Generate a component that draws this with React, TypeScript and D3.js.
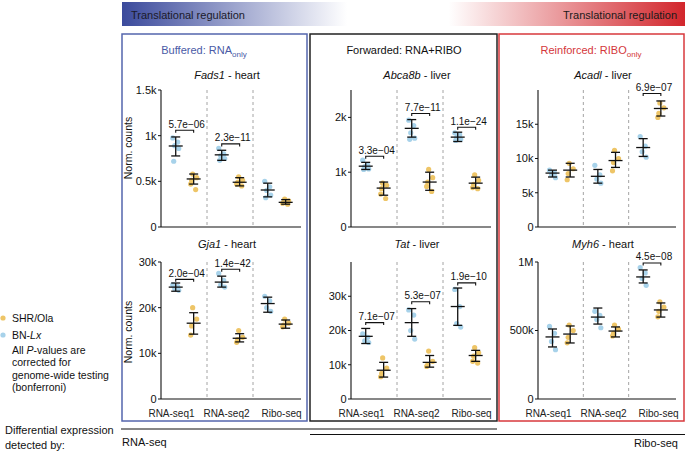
import React from "react";
import * as d3 from "d3";

const W = 685;
const H = 452;
const FONT = "'Liberation Sans', Arial, Helvetica, sans-serif";

const groups = ["RNA-seq1", "RNA-seq2", "Ribo-seq"];
const strainNames = ["SHR/Ola", "BN-Lx"];
const noteLines = ["All P-values are", "corrected for", "genome-wide testing", "(bonferroni)"];

// ---- Fads1 - heart ----
const fads1BnPts = [[975, 930, 890, 860, 720], [860, 800, 780, 750, 730], [500, 440, 400, 350, 320]];
const fads1BnMean = [887, 790, 405];
const fads1BnLo = [778, 730, 330];
const fads1BnHi = [986, 840, 480];
const fads1ShrPts = [[580, 540, 510, 470, 410], [550, 510, 490, 470, 450], [305, 285, 270, 260, 250]];
const fads1ShrMean = [526, 490, 270];
const fads1ShrLo = [470, 450, 250];
const fads1ShrHi = [580, 540, 300];
const fads1P = ["5.7e\u221206", "2.3e\u221211", ""];
const fads1PY = [1060, 910, 0];
const fads1Ticks = [0, 500, 1000, 1500];
const fads1TickLabels = ["0", "0.5k", "1k", "1.5k"];

// ---- Abca8b - liver ----
const abcaBnPts = [[1220, 1130, 1100, 1060, 1050], [1950, 1850, 1720, 1620, 1600], [1720, 1680, 1640, 1600, 1580]];
const abcaBnMean = [1110, 1800, 1640];
const abcaBnLo = [1050, 1640, 1560];
const abcaBnHi = [1180, 1960, 1730];
const abcaShrPts = [[800, 760, 700, 600, 520], [1050, 900, 820, 740, 650], [950, 850, 780, 720, 700]];
const abcaShrMean = [710, 820, 800];
const abcaShrLo = [580, 670, 710];
const abcaShrHi = [820, 1000, 910];
const abcaP = ["3.3e\u221204", "7.7e\u221211", "1.1e\u221224"];
const abcaPY = [1290, 2070, 1820];
const abcaTicks = [0, 1000, 2000];
const abcaTickLabels = ["0", "1k", "2k"];

// ---- Acadl - liver ----
const acadlBnPts = [[8300, 7900, 7600, 7200], [9000, 7600, 7000, 6400], [13200, 11800, 11000, 10200]];
const acadlBnMean = [7870, 7400, 11600];
const acadlBnLo = [7300, 6400, 10300];
const acadlBnHi = [8300, 8400, 12900];
const acadlShrPts = [[9300, 8500, 7800, 6900], [11200, 10000, 9400, 8200], [18100, 17400, 16600, 16000]];
const acadlShrMean = [8300, 9700, 17300];
const acadlShrLo = [7300, 8700, 16200];
const acadlShrHi = [9300, 10900, 18400];
const acadlP = ["", "", "6.9e\u221207"];
const acadlPY = [0, 0, 19500];
const acadlTicks = [0, 5000, 10000, 15000];
const acadlTickLabels = ["0", "5k", "10k", "15k"];

// ---- Gja1 - heart ----
const gjaBnPts = [[25000, 24600, 24200, 23800], [27500, 26000, 25000, 24500], [22500, 21500, 20000, 19200]];
const gjaBnMean = [24500, 25600, 20900];
const gjaBnLo = [23600, 24500, 19000];
const gjaBnHi = [25400, 26900, 22300];
const gjaShrPts = [[20000, 17500, 16000, 14000], [15000, 13500, 13000, 12400], [17500, 16600, 16200, 15800]];
const gjaShrMean = [16600, 13300, 16400];
const gjaShrLo = [14200, 12500, 15500];
const gjaShrHi = [18900, 14300, 17300];
const gjaP = ["2.0e\u221204", "1.4e\u221242", ""];
const gjaPY = [26200, 28400, 0];
const gjaTicks = [0, 10000, 20000, 30000];
const gjaTickLabels = ["0", "10k", "20k", "30k"];

// ---- Tat - liver ----
const tatBnPts = [[19000, 18000, 17000, 16500], [26000, 24500, 20000, 17500], [32000, 27000, 22000, 21000]];
const tatBnMean = [18300, 22300, 27000];
const tatBnLo = [16200, 18300, 21500];
const tatBnHi = [20600, 26400, 32400];
const tatShrPts = [[12000, 9000, 7500, 6500], [14000, 11000, 10000, 9500], [15000, 13500, 12500, 11000, 10500]];
const tatShrMean = [8400, 10700, 12700];
const tatShrLo = [6400, 9300, 11000];
const tatShrHi = [10700, 12700, 14200];
const tatP = ["7.1e\u221207", "5.3e\u221207", "1.9e\u221210"];
const tatPY = [22300, 28400, 33900];
const tatTicks = [0, 10000, 20000, 30000];
const tatTickLabels = ["0", "10k", "20k", "30k"];

// ---- Myh6 - heart ----
const myhBnPts = [[530000, 480000, 420000, 360000], [640000, 610000, 580000, 520000], [960000, 920000, 880000, 830000]];
const myhBnMean = [453000, 598000, 891000];
const myhBnLo = [380000, 547000, 847000];
const myhBnHi = [511000, 664000, 942000];
const myhShrPts = [[540000, 500000, 450000, 410000], [540000, 510000, 480000, 460000], [710000, 670000, 640000, 600000]];
const myhShrMean = [474000, 496000, 650000];
const myhShrLo = [409000, 453000, 598000];
const myhShrHi = [533000, 526000, 701000];
const myhP = ["", "", "4.5e\u221208"];
const myhPY = [0, 0, 993000];
const myhTicks = [0, 500000, 1000000];
const myhTickLabels = ["0", "500k", "1M"];

type Gene = {
  name: string; tissue: string; max: number;
  bnPts: number[][]; bnMean: number[]; bnLo: number[]; bnHi: number[];
  shrPts: number[][]; shrMean: number[]; shrLo: number[]; shrHi: number[];
  p: string[]; pY: number[]; ticks: number[]; tickLabels: string[];
};

const genes: Gene[][] = [
  [
    { name: "Fads1", tissue: "heart", max: 1500, bnPts: fads1BnPts, bnMean: fads1BnMean, bnLo: fads1BnLo, bnHi: fads1BnHi, shrPts: fads1ShrPts, shrMean: fads1ShrMean, shrLo: fads1ShrLo, shrHi: fads1ShrHi, p: fads1P, pY: fads1PY, ticks: fads1Ticks, tickLabels: fads1TickLabels },
    { name: "Gja1", tissue: "heart", max: 30000, bnPts: gjaBnPts, bnMean: gjaBnMean, bnLo: gjaBnLo, bnHi: gjaBnHi, shrPts: gjaShrPts, shrMean: gjaShrMean, shrLo: gjaShrLo, shrHi: gjaShrHi, p: gjaP, pY: gjaPY, ticks: gjaTicks, tickLabels: gjaTickLabels },
  ],
  [
    { name: "Abca8b", tissue: "liver", max: 2500, bnPts: abcaBnPts, bnMean: abcaBnMean, bnLo: abcaBnLo, bnHi: abcaBnHi, shrPts: abcaShrPts, shrMean: abcaShrMean, shrLo: abcaShrLo, shrHi: abcaShrHi, p: abcaP, pY: abcaPY, ticks: abcaTicks, tickLabels: abcaTickLabels },
    { name: "Tat", tissue: "liver", max: 40000, bnPts: tatBnPts, bnMean: tatBnMean, bnLo: tatBnLo, bnHi: tatBnHi, shrPts: tatShrPts, shrMean: tatShrMean, shrLo: tatShrLo, shrHi: tatShrHi, p: tatP, pY: tatPY, ticks: tatTicks, tickLabels: tatTickLabels },
  ],
  [
    { name: "Acadl", tissue: "liver", max: 20000, bnPts: acadlBnPts, bnMean: acadlBnMean, bnLo: acadlBnLo, bnHi: acadlBnHi, shrPts: acadlShrPts, shrMean: acadlShrMean, shrLo: acadlShrLo, shrHi: acadlShrHi, p: acadlP, pY: acadlPY, ticks: acadlTicks, tickLabels: acadlTickLabels },
    { name: "Myh6", tissue: "heart", max: 1000000, bnPts: myhBnPts, bnMean: myhBnMean, bnLo: myhBnLo, bnHi: myhBnHi, shrPts: myhShrPts, shrMean: myhShrMean, shrLo: myhShrLo, shrHi: myhShrHi, p: myhP, pY: myhPY, ticks: myhTicks, tickLabels: myhTickLabels },
  ],
];

// ---- layout / style ----
const BLUE_PT = "#a7d2ea";
const YEL_PT = "#eec567";
const boxX = [122, 310, 499];
const boxR = [307, 497, 684];
const boxColors = ["#5466ad", "#222222", "#d8383c"];
const boxTop = 34;
const boxBottom = 421;
const axisX = [161, 351, 538];
const axisEnd = [299, 489, 674];
const rowTop = [90, 262];
const rowBottom = [227, 399];
const geneTitleY = [79, 248];
const yTitleY = [148, 332];
const jitter = [-3, 2, -1, 3, -2];

function ErrorBar({ x, mean, lo, hi }: { x: number; mean: number; lo: number; hi: number }) {
  return (
    <g stroke="#111" strokeWidth={1.3} fill="none">
      <line x1={x} x2={x} y1={lo} y2={hi} />
      <line x1={x - 4.5} x2={x + 4.5} y1={lo} y2={lo} />
      <line x1={x - 4.5} x2={x + 4.5} y1={hi} y2={hi} />
      <line x1={x - 7} x2={x + 7} y1={mean} y2={mean} />
    </g>
  );
}

function Subplot({ gene, p, r }: { gene: Gene; p: number; r: number }) {
  const y = d3.scaleLinear().domain([0, gene.max]).range([rowBottom[r], rowTop[r]]);
  const x = d3.scaleBand().domain(groups).range([axisX[p], axisEnd[p]]);
  const bw = x.bandwidth();
  const xBn = (g: string) => (x(g) as number) + bw * 0.32;
  const xShr = (g: string) => (x(g) as number) + bw * 0.71;
  const xl = d3.scalePoint().domain(groups).range([axisX[p] + 10.5, axisX[p] + 120.5]);
  const cx = (axisX[p] + axisEnd[p]) / 2 - 3;
  return (
    <g fontFamily={FONT}>
      <text x={cx} y={geneTitleY[r]} textAnchor="middle" fontSize={11} fill="#111">
        <tspan fontStyle="italic">{gene.name}</tspan>
        <tspan>{" - " + gene.tissue}</tspan>
      </text>
      {groups.slice(1).map((g) => (
        <line key={g} x1={x(g)} x2={x(g)} y1={rowTop[r]} y2={rowBottom[r]} stroke="#9a9a9a" strokeWidth={0.9} strokeDasharray="3,3" />
      ))}
      {groups.map((g, i) => (
        <g key={g}>
          {gene.bnPts[i].map((v, j) => (
            <circle key={"b" + j} cx={xBn(g) + jitter[j % jitter.length]} cy={y(v)} r={2.6} fill={BLUE_PT} />
          ))}
          {gene.shrPts[i].map((v, j) => (
            <circle key={"s" + j} cx={xShr(g) + jitter[(j + 2) % jitter.length]} cy={y(v)} r={2.6} fill={YEL_PT} />
          ))}
          <ErrorBar x={xBn(g)} mean={y(gene.bnMean[i])} lo={y(gene.bnLo[i])} hi={y(gene.bnHi[i])} />
          <ErrorBar x={xShr(g)} mean={y(gene.shrMean[i])} lo={y(gene.shrLo[i])} hi={y(gene.shrHi[i])} />
          {gene.p[i] !== "" && (
            <g>
              <path
                d={`M${xBn(g)},${y(gene.pY[i]) + 2.5}V${y(gene.pY[i])}H${xShr(g)}V${y(gene.pY[i]) + 2.5}`}
                fill="none" stroke="#111" strokeWidth={1.1}
              />
              <text x={(xBn(g) + xShr(g)) / 2 + 2} y={y(gene.pY[i]) - 2.5} textAnchor="middle" fontSize={10} fill="#111">
                {gene.p[i]}
              </text>
            </g>
          )}
        </g>
      ))}
      {/* axes */}
      <line x1={axisX[p]} x2={axisX[p]} y1={rowTop[r]} y2={rowBottom[r]} stroke="#111" strokeWidth={1.1} />
      <line x1={axisX[p]} x2={axisEnd[p] + 2} y1={rowBottom[r]} y2={rowBottom[r]} stroke="#111" strokeWidth={1.1} />
      {gene.ticks.map((t, i) => (
        <g key={t}>
          <line x1={axisX[p] - 3} x2={axisX[p]} y1={y(t)} y2={y(t)} stroke="#111" strokeWidth={1} />
          <text x={axisX[p] - 4.5} y={y(t)} dy="0.35em" textAnchor="end" fontSize={11} fill="#111">
            {gene.tickLabels[i]}
          </text>
        </g>
      ))}
      {r === 1 &&
        groups.map((g) => (
          <text key={g} x={xl(g)} y={417} textAnchor="middle" fontSize={10} fill="#222">
            {g}
          </text>
        ))}
      {p === 0 && (
        <text transform={`translate(132,${yTitleY[r]}) rotate(-90)`} textAnchor="middle" fontSize={10.5} fill="#111">
          Norm. counts
        </text>
      )}
    </g>
  );
}

export default function App() {
  return (
    <svg width={W} height={H} style={{ position: "absolute", left: 0, top: 0, background: "#fff" }} fontFamily={FONT}>
      <defs>
        <linearGradient id="topgrad" x1="0" x2="1" y1="0" y2="0">
          <stop offset="0" stopColor="#3b4a9c" />
          <stop offset="0.4" stopColor="#ffffff" />
          <stop offset="0.58" stopColor="#ffffff" />
          <stop offset="1" stopColor="#d2262c" />
        </linearGradient>
      </defs>
      <rect x={0} y={0} width={W} height={H} fill="#fff" />
      <rect x={122} y={2} width={563} height={24} fill="url(#topgrad)" />
      <text x={131} y={18.5} fontSize={11} fill="#1a1a2a">Translational regulation</text>
      <text x={677} y={18.5} fontSize={11} fill="#1a1a1a" textAnchor="end">Translational regulation</text>

      {/* panel boxes */}
      {boxX.map((bx, i) => (
        <rect key={i} x={bx} y={boxTop} width={boxR[i] - bx} height={boxBottom - boxTop} fill="none" stroke={boxColors[i]} strokeWidth={1.5} />
      ))}
      <text x={204} y={54} textAnchor="middle" fontSize={11} fill="#4a5aa6">
        <tspan>Buffered: RNA</tspan>
        <tspan fontSize={8} dy={3}>only</tspan>
      </text>
      <text x={404} y={54} textAnchor="middle" fontSize={11} fill="#111">Forwarded: RNA+RIBO</text>
      <text x={591} y={54} textAnchor="middle" fontSize={11} fill="#d4373b">
        <tspan>Reinforced: RIBO</tspan>
        <tspan fontSize={8} dy={3}>only</tspan>
      </text>

      {genes.map((col, p) => col.map((g, r) => <Subplot key={p + "-" + r} gene={g} p={p} r={r} />))}

      {/* legend */}
      <circle cx={3} cy={318} r={2.6} fill={YEL_PT} />
      <text x={12} y={322} fontSize={10.5} fill="#111">{strainNames[0]}</text>
      <circle cx={3} cy={335} r={2.6} fill={BLUE_PT} />
      <text x={12} y={339} fontSize={10.5} fill="#111">
        <tspan>BN-</tspan>
        <tspan fontStyle="italic">Lx</tspan>
      </text>
      {noteLines.map((t, i) => (
        <text key={i} x={12} y={354 + i * 12.3} fontSize={10.5} fill="#111">
          {i === 0 ? (
            <>
              <tspan>All </tspan>
              <tspan fontStyle="italic">P</tspan>
              <tspan>-values are</tspan>
            </>
          ) : (
            t
          )}
        </text>
      ))}

      {/* differential expression */}
      <text x={5} y={434} fontSize={11} fill="#111">Differential expression</text>
      <text x={5} y={449} fontSize={11} fill="#111">detected by:</text>
      <line x1={121} x2={497} y1={429} y2={429} stroke="#111" strokeWidth={1.2} />
      <line x1={310} x2={685} y1={434.5} y2={434.5} stroke="#111" strokeWidth={1.2} />
      <text x={122} y={446} fontSize={11} fill="#111">RNA-seq</text>
      <text x={678} y={447} fontSize={11} fill="#111" textAnchor="end">Ribo-seq</text>
    </svg>
  );
}
